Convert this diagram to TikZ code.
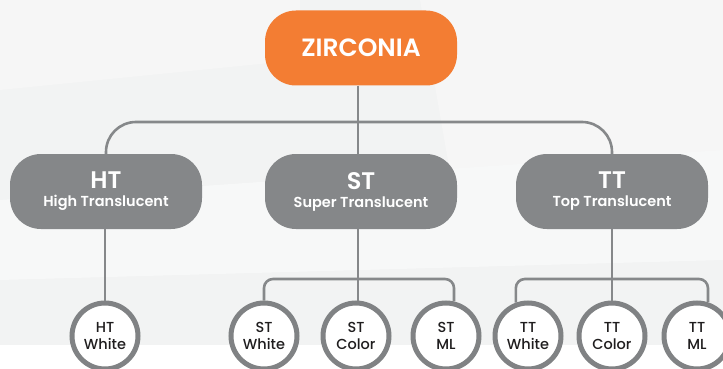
\documentclass[tikz,border=0pt]{standalone}
\usepackage{fontspec}
\setmainfont{Poppins}
\newfontfamily\popsb{Poppins}[UprightFont=* SemiBold]
\newfontfamily\popmd{Poppins}[UprightFont=* Medium]
\definecolor{zorange}{HTML}{F37D33}
\definecolor{pillgray}{HTML}{858789}
\definecolor{linegray}{HTML}{86888A}
\definecolor{ringgray}{HTML}{808284}
\definecolor{bgA}{HTML}{F2F3F3}
\definecolor{bgB}{HTML}{F6F6F6}
\definecolor{txtdark}{HTML}{1F1D1E}
\tikzset{
  pill/.style={draw=none, rounded corners=31pt, minimum width=192pt, minimum height=75pt,
    inner sep=0pt, align=center, text=white},
  rootpill/.style={pill, fill=zorange},
  grpill/.style={pill, fill=pillgray, font=\popsb\fontsize{14.5}{18}\selectfont},
  leaf/.style={circle, draw=ringgray, line width=5pt, fill=white, minimum size=66pt,
    inner sep=0pt, align=center, text=txtdark,
    font=\popmd\fontsize{14.5}{17}\selectfont},
  conn/.style={draw=linegray, line width=2.6pt},
}
\begin{document}
\begin{tikzpicture}[x=1pt,y=-1pt]
\useasboundingbox (0,0) rectangle (723,369);
\clip (0,0) rectangle (723,369);
% background
\fill[bgA] (0,0) rectangle (723,369);
\fill[bgB] (0,0) -- (300,0) -- (300,60) -- (0,90) -- cycle;
\fill[bgB] (420,0) -- (723,0) -- (723,200) -- (460,230) -- cycle;
\fill[white!40!bgA] (0,200) -- (723,150) -- (723,260) -- (0,280) -- cycle;
\fill[white] (0,345) rectangle (723,369);
% nodes
\node[rootpill, font=\popsb\fontsize{25}{25}\selectfont] (zirc) at (361,48) {ZIRCONIA};
\node[grpill] (ht) at (106,191.5) {{\fontsize{24}{18}\selectfont HT}\\High Translucent};
\node[grpill] (st) at (361,191.5) {{\fontsize{24}{18}\selectfont ST}\\Super Translucent};
\node[grpill] (tt) at (612,191.5) {{\fontsize{24}{18}\selectfont TT}\\Top Translucent};
\node[leaf] (htw) at (105,336) {HT\\White};
\node[leaf] (stw) at (264,336) {ST\\White};
\node[leaf] (stc) at (356,336) {ST\\Color};
\node[leaf] (stm) at (446,336) {ST\\ML};
\node[leaf] (ttw) at (528,336) {TT\\White};
\node[leaf] (ttc) at (612,336) {TT\\Color};
\node[leaf] (ttm) at (697,336) {TT\\ML};
% connectors
\coordinate (bar) at (358,122);
\draw[conn] (zirc.south -| bar) -- (st.north -| bar);
\draw[conn, rounded corners=30pt] (ht.north) |- (bar) -| (tt.north);
\draw[conn] (ht.south -| htw.north) -- (htw.north);
\coordinate (stbar) at (358,279);
\draw[conn] (st.south -| stbar) -- (stc.north -| stbar);
\draw[conn, rounded corners=9pt] (stw.north) |- (stbar) -| (stm.77);
\coordinate (ttbar) at (612,279);
\draw[conn] (tt.south) -- (ttc.north);
\draw[conn, rounded corners=9pt] (ttw.110) |- (ttbar) -| (ttm.72);
\end{tikzpicture}
\end{document}
